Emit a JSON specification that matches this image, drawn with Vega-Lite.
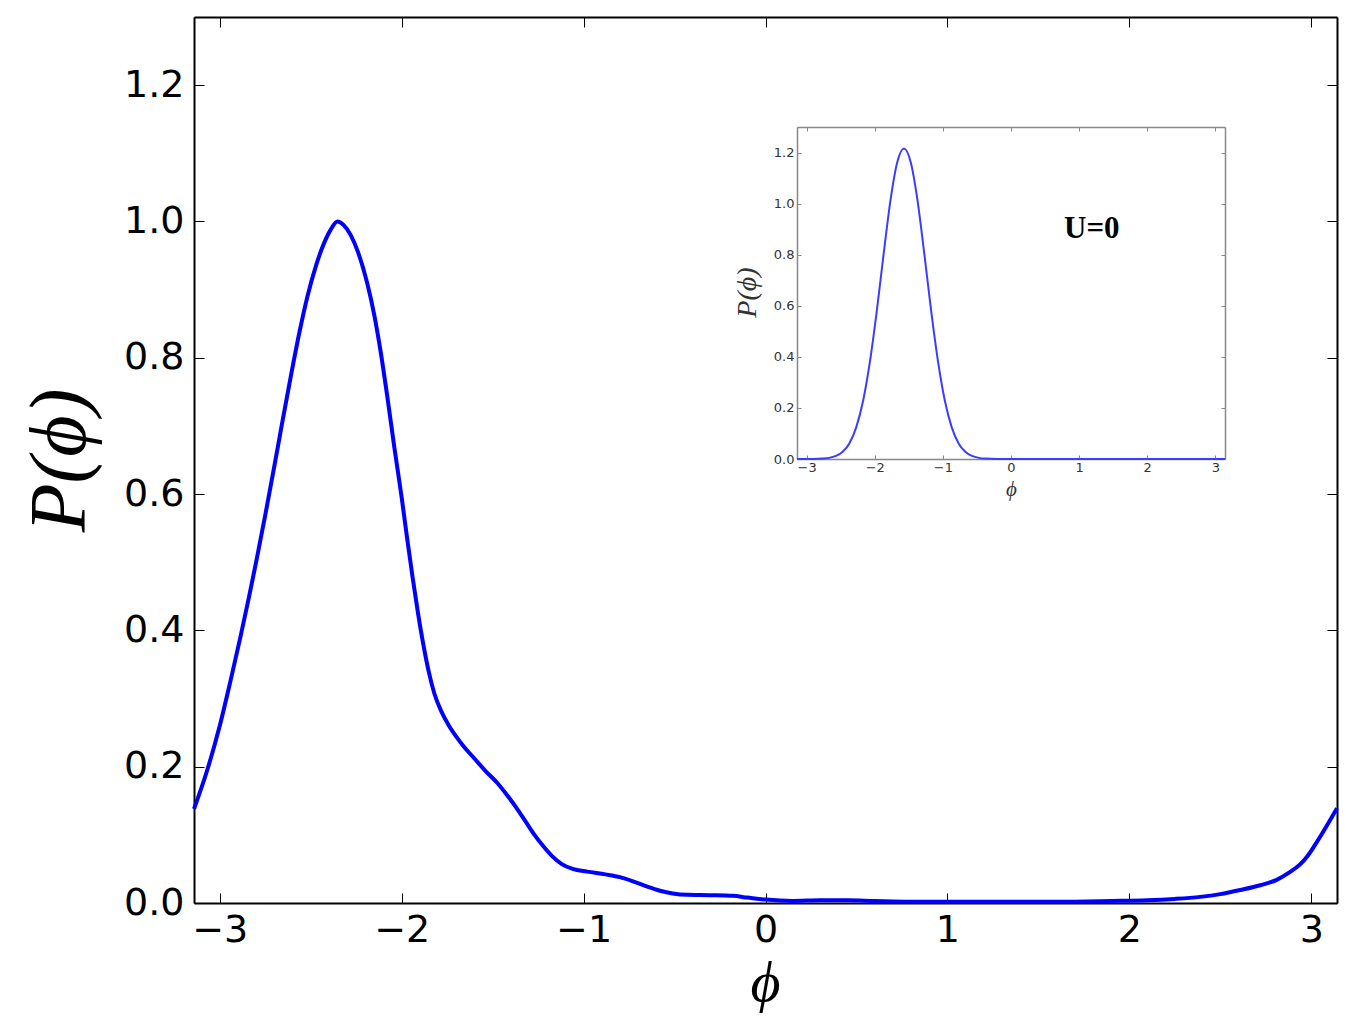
{
  "$schema": "https://vega.github.io/schema/vega-lite/v6.json",
  "width": 1143,
  "height": 886,
  "autosize": {"type": "none"},
  "padding": {"left": 194, "top": 17, "right": 19, "bottom": 123},
  "background": "white",
  "config": {
    "view": {"stroke": null},
    "axis": {
      "grid": false,
      "domainColor": "black",
      "domainWidth": 2,
      "tickColor": "black",
      "tickWidth": 1,
      "tickSize": -10,
      "labelFont": "DejaVu Sans",
      "labelFontSize": 38,
      "labelColor": "black",
      "titleFont": "Liberation Serif",
      "titleFontStyle": "italic",
      "titleFontWeight": "normal",
      "titleColor": "black"
    }
  },
  "datasets": {
    "main": [
      {"x": -3.1416, "y": 0.138}, {"x": -3.07, "y": 0.194}, {"x": -3.0, "y": 0.26}, {"x": -2.94, "y": 0.327},
      {"x": -2.885, "y": 0.392}, {"x": -2.84, "y": 0.448}, {"x": -2.795, "y": 0.507}, {"x": -2.75, "y": 0.569},
      {"x": -2.7, "y": 0.641}, {"x": -2.66, "y": 0.7}, {"x": -2.61, "y": 0.772}, {"x": -2.56, "y": 0.84},
      {"x": -2.518, "y": 0.89}, {"x": -2.47, "y": 0.936}, {"x": -2.43, "y": 0.966}, {"x": -2.39, "y": 0.988},
      {"x": -2.353, "y": 1.0}, {"x": -2.32, "y": 0.995}, {"x": -2.28, "y": 0.98}, {"x": -2.24, "y": 0.955},
      {"x": -2.19, "y": 0.91}, {"x": -2.15, "y": 0.862}, {"x": -2.115, "y": 0.808}, {"x": -2.08, "y": 0.745},
      {"x": -2.04, "y": 0.668}, {"x": -2.0, "y": 0.595}, {"x": -1.97, "y": 0.535}, {"x": -1.94, "y": 0.478},
      {"x": -1.91, "y": 0.425}, {"x": -1.88, "y": 0.378}, {"x": -1.85, "y": 0.338}, {"x": -1.82, "y": 0.307},
      {"x": -1.78, "y": 0.28}, {"x": -1.74, "y": 0.26}, {"x": -1.7, "y": 0.244}, {"x": -1.66, "y": 0.23},
      {"x": -1.6, "y": 0.212}, {"x": -1.54, "y": 0.194}, {"x": -1.474, "y": 0.176}, {"x": -1.42, "y": 0.158},
      {"x": -1.37, "y": 0.14}, {"x": -1.32, "y": 0.12}, {"x": -1.27, "y": 0.1}, {"x": -1.22, "y": 0.083},
      {"x": -1.17, "y": 0.068}, {"x": -1.12, "y": 0.057}, {"x": -1.06, "y": 0.05}, {"x": -0.98, "y": 0.046},
      {"x": -0.88, "y": 0.042}, {"x": -0.8, "y": 0.038}, {"x": -0.72, "y": 0.031}, {"x": -0.65, "y": 0.024},
      {"x": -0.58, "y": 0.018}, {"x": -0.51, "y": 0.014}, {"x": -0.43, "y": 0.012}, {"x": -0.3, "y": 0.0115},
      {"x": -0.18, "y": 0.0105}, {"x": -0.1, "y": 0.008}, {"x": 0.0, "y": 0.005}, {"x": 0.15, "y": 0.003},
      {"x": 0.3, "y": 0.004}, {"x": 0.45, "y": 0.004}, {"x": 0.6, "y": 0.003}, {"x": 0.8, "y": 0.002},
      {"x": 1.0, "y": 0.002}, {"x": 1.3, "y": 0.002}, {"x": 1.6, "y": 0.002}, {"x": 1.9, "y": 0.003},
      {"x": 2.1, "y": 0.004}, {"x": 2.25, "y": 0.006}, {"x": 2.39, "y": 0.009}, {"x": 2.5, "y": 0.013},
      {"x": 2.61, "y": 0.019}, {"x": 2.72, "y": 0.026}, {"x": 2.81, "y": 0.034}, {"x": 2.88, "y": 0.045},
      {"x": 2.94, "y": 0.057}, {"x": 2.98, "y": 0.069}, {"x": 3.02, "y": 0.085}, {"x": 3.06, "y": 0.102},
      {"x": 3.1, "y": 0.12}, {"x": 3.1416, "y": 0.139}
    ],
    "inset": [
      {"x": -3.1416, "y": 0}, {"x": -2.9, "y": 0}, {"x": -2.771, "y": 0.0015}, {"x": -2.671, "y": 0.0044},
      {"x": -2.571, "y": 0.012}, {"x": -2.471, "y": 0.028}, {"x": -2.371, "y": 0.062}, {"x": -2.271, "y": 0.125},
      {"x": -2.171, "y": 0.228}, {"x": -2.071, "y": 0.381}, {"x": -1.971, "y": 0.578}, {"x": -1.871, "y": 0.8},
      {"x": -1.771, "y": 1.01}, {"x": -1.671, "y": 1.161}, {"x": -1.571, "y": 1.216}, {"x": -1.471, "y": 1.161},
      {"x": -1.371, "y": 1.01}, {"x": -1.271, "y": 0.8}, {"x": -1.171, "y": 0.578}, {"x": -1.071, "y": 0.381},
      {"x": -0.971, "y": 0.228}, {"x": -0.871, "y": 0.125}, {"x": -0.771, "y": 0.062}, {"x": -0.671, "y": 0.028},
      {"x": -0.571, "y": 0.012}, {"x": -0.471, "y": 0.0044}, {"x": -0.371, "y": 0.0015}, {"x": -0.2, "y": 0},
      {"x": 0.5, "y": 0}, {"x": 3.1416, "y": 0}
    ],
    "label": [{"x": 1.186, "y": 0.9, "text": "U=0"}]
  },
  "layer": [
    {
      "data": {"name": "main"},
      "mark": {"type": "line", "color": "#0000ff", "strokeWidth": 4, "interpolate": "monotone"},
      "encoding": {
        "x": {"field": "x", "type": "quantitative",
          "scale": {"domain": [-3.14159, 3.14159], "nice": false, "zero": false},
          "axis": {"orient": "bottom", "values": [-3, -2, -1, 0, 1, 2, 3], "format": "d", "labelPadding": 18,
            "title": "ϕ", "titleFontSize": 58, "titleX": 571, "titleY": 80, "titleAlign": "center", "titleBaseline": "middle"}},
        "y": {"field": "y", "type": "quantitative",
          "scale": {"domain": [0, 1.3], "nice": false, "zero": false},
          "axis": {"orient": "left", "values": [0, 0.2, 0.4, 0.6, 0.8, 1.0, 1.2], "format": ".1f", "labelPadding": 20,
            "title": "P(ϕ)", "titleFontSize": 80, "titleX": -134, "titleY": 443, "titleAngle": -90, "titleAlign": "center", "titleBaseline": "middle"}}
      }
    },
    {
      "data": {"name": "main"},
      "mark": {"type": "line", "opacity": 0},
      "encoding": {
        "x": {"field": "x", "type": "quantitative",
          "scale": {"domain": [-3.14159, 3.14159], "nice": false, "zero": false},
          "axis": {"orient": "top", "values": [-3, -2, -1, 0, 1, 2, 3], "labels": false, "title": null}},
        "y": {"field": "y", "type": "quantitative",
          "scale": {"domain": [0, 1.3], "nice": false, "zero": false},
          "axis": {"orient": "right", "values": [0, 0.2, 0.4, 0.6, 0.8, 1.0, 1.2], "labels": false, "title": null}}
      }
    },
    {
      "layer": [
        {
          "data": {"name": "inset"},
          "mark": {"type": "line", "color": "#3c3cff", "strokeWidth": 2, "interpolate": "monotone"},
          "encoding": {
            "x": {"field": "x", "type": "quantitative",
              "scale": {"domain": [-3.14159, 3.14159], "nice": false, "zero": false, "range": [603, 1031]},
              "axis": {"orient": "bottom", "offset": -444, "values": [-3, -2, -1, 0, 1, 2, 3], "format": "d",
                "labelFontSize": 13, "labelColor": "#333333", "labelPadding": 6, "domainColor": "#888888", "domainWidth": 1.5,
                "tickColor": "#888888", "tickSize": -4,
                "title": "ϕ", "titleFontSize": 21, "titleX": 817, "titleY": 30, "titleAlign": "center", "titleBaseline": "middle", "titleColor": "#333333"}},
            "y": {"field": "y", "type": "quantitative",
              "scale": {"domain": [0, 1.3], "nice": false, "zero": false, "range": [442, 110]},
              "axis": {"orient": "left", "offset": -603, "values": [0, 0.2, 0.4, 0.6, 0.8, 1.0, 1.2], "format": ".1f",
                "labelFontSize": 13, "labelColor": "#333333", "labelPadding": 7, "domainColor": "#888888", "domainWidth": 1.5,
                "tickColor": "#888888", "tickSize": -4,
                "title": "P(ϕ)", "titleFontSize": 28, "titleX": -50, "titleY": 275, "titleAngle": -90, "titleAlign": "center", "titleBaseline": "middle", "titleColor": "#333333"}}
          }
        },
        {
          "data": {"name": "label"},
          "mark": {"type": "text", "font": "Liberation Serif", "fontWeight": "bold", "fontSize": 31, "color": "black", "align": "center", "baseline": "middle"},
          "encoding": {
            "x": {"field": "x", "type": "quantitative"},
            "y": {"field": "y", "type": "quantitative"},
            "text": {"field": "text"}
          }
        }
      ]
    },
    {
      "data": {"name": "inset"},
      "mark": {"type": "line", "opacity": 0},
      "encoding": {
        "x": {"field": "x", "type": "quantitative",
          "scale": {"domain": [-3.14159, 3.14159], "nice": false, "zero": false, "range": [603, 1031]},
          "axis": {"orient": "top", "offset": -110, "values": [-3, -2, -1, 0, 1, 2, 3], "labels": false, "title": null,
            "domainColor": "#888888", "domainWidth": 1.5, "tickColor": "#888888", "tickSize": -4}},
        "y": {"field": "y", "type": "quantitative",
          "scale": {"domain": [0, 1.3], "nice": false, "zero": false, "range": [442, 110]},
          "axis": {"orient": "right", "offset": -112, "values": [0, 0.2, 0.4, 0.6, 0.8, 1.0, 1.2], "labels": false, "title": null,
            "domainColor": "#888888", "domainWidth": 1.5, "tickColor": "#888888", "tickSize": -4}}
      }
    }
  ],
  "resolve": {"scale": {"x": "independent", "y": "independent"}, "axis": {"x": "independent", "y": "independent"}}
}
